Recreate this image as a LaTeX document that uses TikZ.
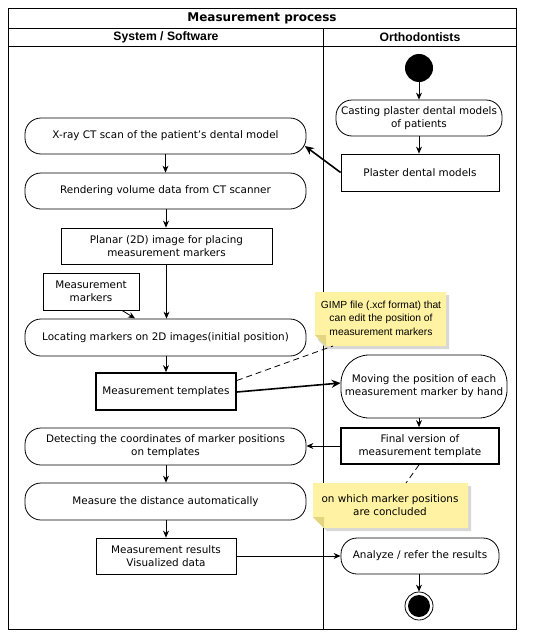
\documentclass[tikz,border=0pt]{standalone}
\usepackage{fontspec}
\setmainfont{DejaVu Sans}
\newfontfamily\arialf{Liberation Sans}
\usetikzlibrary{arrows.meta,calc}
\definecolor{notey}{RGB}{255,243,163}
\definecolor{notefold}{RGB}{228,214,128}
\definecolor{noteshadow}{RGB}{215,215,215}
\begin{document}
\begin{tikzpicture}[x=1pt,y=-1pt,
  base/.style={font=\fontsize{10.4}{13.2}\selectfont, align=center, inner sep=0pt},
  act/.style={base, draw, rounded corners=16pt, line width=0.8pt},
  obj/.style={base, draw, line width=0.8pt},
  objthick/.style={obj, line width=1.7pt},
  arr/.style={-{Stealth[length=7pt,width=6pt]}, line width=0.8pt},
  thickarr/.style={-{Stealth[length=9pt,width=8pt]}, line width=1.6pt},
  notetext/.style={inner sep=0pt, align=center},
  frame/.style={draw, line width=0.9pt}
]
\useasboundingbox (0,0) rectangle (550,640);

% frame and lanes
\draw[frame] (8,8) rectangle (516,629);
\draw[frame] (8,28) -- (516,28);
\draw[frame] (8,46) -- (516,46);
\draw[frame] (323,28) -- (323,629);
\node[inner sep=0pt, font=\bfseries\fontsize{12}{14}\selectfont] (title) at (262,18) {Measurement process};
\node[inner sep=0pt, font=\arialf\bfseries\fontsize{12.2}{14}\selectfont] (lane1) at (166,37) {System / Software};
\node[inner sep=0pt, font=\arialf\bfseries\fontsize{12.2}{14}\selectfont] (lane2) at (420,37) {Orthodontists};

% orthodontists lane
\node[circle, fill=black, minimum size=28, inner sep=0pt] (start) at (419,68) {};
\node[act, minimum width=166, minimum height=36] (cast) at (419,118) {Casting plaster dental models\\of patients};
\node[obj, minimum width=158, minimum height=37] (plaster) at (420,172.5) {Plaster dental models};
\node[act, rounded corners=28pt, minimum width=166, minimum height=63] (moving) at (424,386.5) {Moving the position of each\\measurement marker by hand};
\node[objthick, minimum width=158, minimum height=36] (final) at (420,446) {Final version of\\measurement template};
\node[act, minimum width=158, minimum height=36] (analyze) at (420,556) {Analyze / refer the results};
\node[circle, draw, line width=0.8pt, fill=white, minimum size=28, inner sep=0pt] (end) at (419,606) {};
\fill (end.center) circle (11);

% system lane
\node[act, minimum width=281, minimum height=36] (xray) at (165.5,136) {X-ray CT scan of the patient's dental model};
\node[act, minimum width=281, minimum height=36] (render) at (165.5,191) {Rendering volume data from CT scanner};
\node[obj, minimum width=211, minimum height=36] (planar) at (166.5,246) {Planar (2D) image for placing\\measurement markers};
\node[obj, minimum width=96, minimum height=37] (markers) at (91,291.5) {Measurement\\markers};
\node[act, minimum width=281, minimum height=37] (locate) at (165.5,337.5) {Locating markers on 2D images(initial position)};
\node[objthick, minimum width=140, minimum height=37] (templ) at (166,391.5) {Measurement templates};
\node[act, minimum width=281, minimum height=37] (detect) at (165.5,446.5) {Detecting the coordinates of marker positions\\on templates};
\node[act, minimum width=281, minimum height=37] (measure) at (165.5,501.5) {Measure the distance automatically};
\node[obj, minimum width=140, minimum height=36] (results) at (166,556) {Measurement results\\Visualized data};

% notes
\fill[noteshadow] (318,295) -- (449,295) -- (449,349) -- (327,349) -- (318,340) -- cycle;
\fill[notey] (315,292) -- (446,292) -- (446,346) -- (326,346) -- (315,335) -- cycle;
\fill[notefold] (315,335) -- (326,335) -- (326,346) -- cycle;
\node[notetext, font=\arialf\fontsize{10.3}{13.4}\selectfont] (note1) at (381,318) {GIMP file (.xcf format) that\\can edit the position of\\measurement markers};
\coordinate (n1a) at (333,346);

\fill[noteshadow] (316,486) -- (471,486) -- (471,531) -- (327,531) -- (316,520) -- cycle;
\fill[notey] (313,483) -- (468,483) -- (468,528) -- (324,528) -- (313,517) -- cycle;
\fill[notefold] (313,517) -- (324,517) -- (324,528) -- cycle;
\node[notetext, font=\fontsize{10.4}{13.2}\selectfont] (note2) at (390,505) {on which marker positions\\are concluded};
\coordinate (n2a) at (406,483);

% connectors
\draw[arr] (start) -- (start |- cast.north);
\draw[arr] (cast.south -| plaster.north) ++(-1,0) coordinate (cp) (cp) -- (cp |- plaster.north);
\draw[thickarr] ($(plaster.west)+(0,0)$) -- ($(xray.east)+(-1.5,10)$);
\draw[arr] (xray.south) -- (xray.south |- render.north);
\draw[arr] ($(render.south)+(0.5,0)$) -- ($(render.south |- planar.north)+(0.5,0)$);
\draw[arr] (planar.south) -- (planar.south |- locate.north);
\draw[arr] ($(markers.south)+(31,0)$) -- ($(markers.south)+(44,8)$);
\draw[arr] ($(locate.south)+(0.5,0)$) -- ($(locate.south |- templ.north)+(0.5,0)$);
\draw[dashed, line width=0.8pt, dash pattern=on 6pt off 4pt] ($(templ.east)+(0,-11)$) -- (n1a);
\draw[thickarr] ($(templ.east)+(0,0.5)$) -- ($(moving.west)+(0,-3.5)$);
\draw[arr] (moving.south -| cp) -- (cp |- final.north);
\draw[arr] (final.west) -- (final.west -| detect.east);
\draw[dashed, line width=0.8pt, dash pattern=on 6pt off 4pt] (final.south -| cp) -- (n2a);
\draw[arr] ($(detect.south)+(0.5,0)$) -- ($(detect.south |- measure.north)+(0.5,0)$);
\draw[arr] ($(measure.south)+(0.5,0)$) -- ($(measure.south |- results.north)+(0.5,0)$);
\draw[arr] (results.east) -- (results.east -| analyze.west);
\draw[arr] (analyze.south -| end) -- (end.north);
\end{tikzpicture}
\end{document}
